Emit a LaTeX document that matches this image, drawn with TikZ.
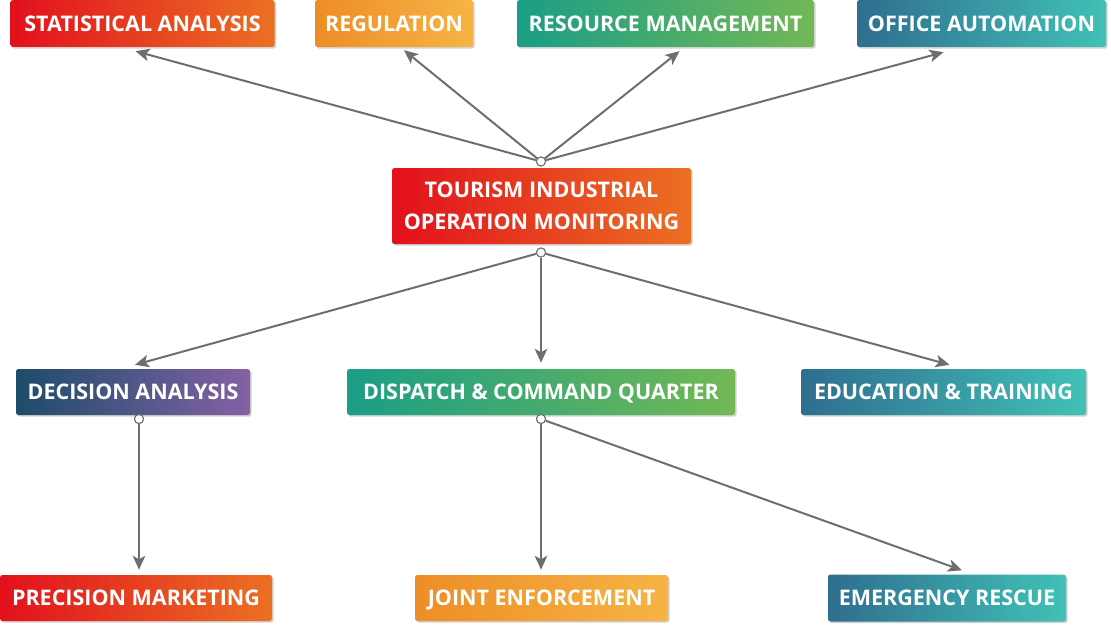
\documentclass[tikz,border=0pt]{standalone}
\usepackage{fontspec}
\setmainfont{Open Sans}
\usetikzlibrary{arrows.meta,shadows,calc}

\definecolor{redA}{HTML}{E2101D}\definecolor{redB}{HTML}{EB7023}
\definecolor{orA}{HTML}{EE8D27}\definecolor{orB}{HTML}{F6B444}
\definecolor{grA}{HTML}{1A9E85}\definecolor{grB}{HTML}{72B855}
\definecolor{tlA}{HTML}{2F6E8F}\definecolor{tlB}{HTML}{41C1B6}
\definecolor{puA}{HTML}{1D4C69}\definecolor{puB}{HTML}{8461A5}
\definecolor{linkgray}{HTML}{6E6E6E}

\tikzset{
  box/.style={rounded corners=2.5pt, minimum height=47, inner sep=0pt,
    text=white, font=\bfseries\fontsize{21.5}{32}\selectfont, align=center,
    drop shadow={shadow xshift=1.6pt, shadow yshift=-1.6pt, opacity=0.3, fill=black!60}},
  oneline/.style={text height=15.4pt, text depth=0pt},
  redbox/.style={box, left color=redA, right color=redB},
  orbox/.style={box, left color=orA, right color=orB},
  grbox/.style={box, left color=grA, right color=grB},
  tlbox/.style={box, left color=tlA, right color=tlB},
  pubox/.style={box, left color=puA, right color=puB},
  hub/.style={circle, draw=linkgray, fill=white, line width=1pt, minimum size=9pt, inner sep=0pt},
  link/.style={draw=linkgray, line width=2pt, -{Stealth[length=14pt,width=12.5pt,inset=3.5pt]}}
}

\begin{document}
\begin{tikzpicture}[x=1pt,y=-1pt]
\useasboundingbox (0,0) rectangle (1111,626);

% top row
\node[redbox, oneline, minimum width=264] (stat) at (142.5,23.5) {STATISTICAL ANALYSIS};
\node[orbox,  oneline, minimum width=158] (reg)  at (394,23.5)   {REGULATION};
\node[grbox,  oneline, minimum width=297] (res)  at (665.5,23.5) {RESOURCE MANAGEMENT};
\node[tlbox,  oneline, minimum width=249] (off)  at (981.5,23.5) {OFFICE AUTOMATION};

% central topic
\node[redbox, minimum width=299, minimum height=76] (main) at (541.5,206)
  {TOURISM INDUSTRIAL\\OPERATION MONITORING};

% middle row
\node[pubox, oneline, minimum width=234, minimum height=46] (dec)  at (133,392)   {DECISION ANALYSIS};
\node[grbox, oneline, minimum width=388, minimum height=46] (disp) at (541,392)   {DISPATCH \& COMMAND QUARTER};
\node[tlbox, oneline, minimum width=285, minimum height=46] (edu)  at (943.5,392) {EDUCATION \& TRAINING};

% bottom row
\node[redbox, oneline, minimum width=272, minimum height=46] (prec)  at (136,598)   {PRECISION MARKETING};
\node[orbox,  oneline, minimum width=253, minimum height=46] (joint) at (541.5,598) {JOINT ENFORCEMENT};
\node[tlbox,  oneline, minimum width=238, minimum height=47] (emer)  at (947,598)   {EMERGENCY RESCUE};

% connection hubs
\node[hub] (htop)  at (541,161.5) {};
\node[hub] (hbot)  at (541,252.5) {};
\node[hub] (hdec)  at (139,419)   {};
\node[hub] (hdisp) at (541,419)   {};

% arrow targets just outside the boxes
\coordinate (tstat)  at ($(stat.south)+(-7,4)$);
\coordinate (treg)   at ($(reg.south)+(10,3)$);
\coordinate (tres)   at ($(res.south)+(14,4)$);
\coordinate (toff)   at ($(off.south)+(-38,5)$);
\coordinate (tdec)   at ($(dec.north)+(2,-4)$);
\coordinate (tdisp)  at ($(disp.north)+(0,-6)$);
\coordinate (tedu)   at ($(edu.north)+(6,-4)$);
\coordinate (tprec)  at ($(prec.north)+(3,-5)$);
\coordinate (tjoint) at ($(joint.north)+(-0.5,-5)$);
\coordinate (temer)  at ($(emer.north)+(15,-4)$);

\draw[link] (htop) -- (tstat);
\draw[link] (htop) -- (treg);
\draw[link] (htop) -- (tres);
\draw[link] (htop) -- (toff);
\draw[link] (hbot) -- (tdec);
\draw[link] (hbot) -- (tdisp);
\draw[link] (hbot) -- (tedu);
\draw[link] (hdec) -- (tprec);
\draw[link] (hdisp) -- (tjoint);
\draw[link] (hdisp) -- (temer);

% redraw hubs over the line ends
\foreach \h in {htop,hbot,hdec,hdisp}
  \node[hub] at (\h) {};
\end{tikzpicture}
\end{document}
